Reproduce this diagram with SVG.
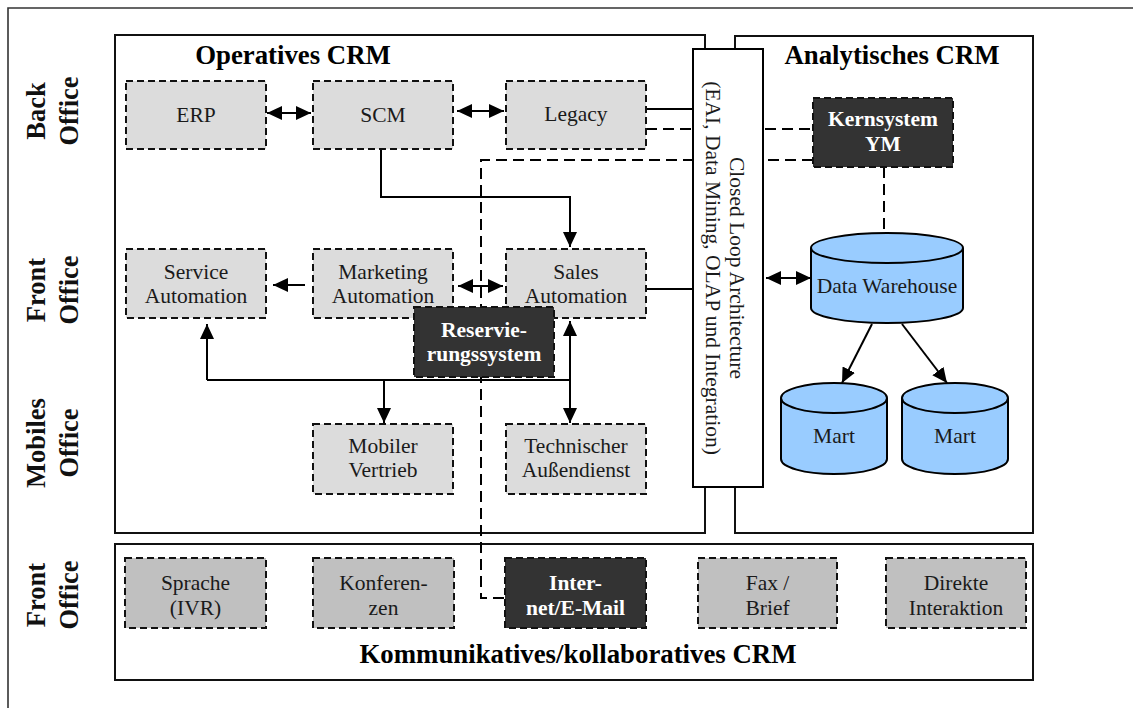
<svg xmlns="http://www.w3.org/2000/svg" width="1133" height="708" viewBox="0 0 1133 708">
<style>
  text { font-family: "Liberation Serif", "Times New Roman", serif; }
  .frame { fill: none; stroke: #333; stroke-width: 1.6; }
  .area { fill: #fff; stroke: #111; stroke-width: 2; }
  .node { fill: #dcdcdc; stroke: #111; stroke-width: 2; stroke-dasharray: 7 4; }
  .comm { fill: #c0c0c0; stroke: #111; stroke-width: 2; stroke-dasharray: 7 4; }
  .dark { fill: #333; stroke: #111; stroke-width: 2; stroke-dasharray: 7 4; }
  .db { fill: #99ccff; stroke: #000; stroke-width: 2; }
  .lbl { font-size: 21.5px; fill: #1a1a1a; text-anchor: middle; }
  .lblw { font-size: 21.5px; fill: #fff; font-weight: bold; text-anchor: middle; }
  .title { font-size: 26.8px; font-weight: bold; fill: #000; text-anchor: middle; }
  .side { font-size: 26.5px; font-weight: bold; fill: #111; text-anchor: middle; }
  .line { fill: none; stroke: #000; stroke-width: 2; }
  .dash { fill: none; stroke: #000; stroke-width: 2; stroke-dasharray: 11 6; }
  .arr { marker-end: url(#ah); }
  .arr2 { marker-start: url(#ah); marker-end: url(#ah); }
</style>
<defs>
  <marker id="ah" viewBox="0 0 15 14" refX="15" refY="7" markerWidth="15" markerHeight="14" markerUnits="userSpaceOnUse" orient="auto-start-reverse">
    <path d="M0,0 L15,7 L0,14 Z" fill="#000"/>
  </marker>
</defs>

<!-- outer frame (continues past the lower and right border) -->
<path class="frame" d="M8,720 V8 H1140"/>

<!-- side labels -->
<g id="labels-side">
  <text class="side" transform="translate(45,111) rotate(-90)">Back</text>
  <text class="side" transform="translate(78,111) rotate(-90)">Office</text>
  <text class="side" transform="translate(45,290) rotate(-90)">Front</text>
  <text class="side" transform="translate(78,290) rotate(-90)">Office</text>
  <text class="side" transform="translate(45,443) rotate(-90)">Mobiles</text>
  <text class="side" transform="translate(78,443) rotate(-90)">Office</text>
  <text class="side" transform="translate(45,595) rotate(-90)">Front</text>
  <text class="side" transform="translate(78,595) rotate(-90)">Office</text>
</g>

<!-- area boxes -->
<g id="area-operativ">
  <rect class="area" x="115" y="35" width="590" height="498"/>
  <text class="title" x="293" y="64">Operatives CRM</text>
</g>
<g id="area-analytisch">
  <rect class="area" x="735" y="36" width="298" height="497"/>
  <text class="title" x="892" y="64">Analytisches CRM</text>
</g>
<g id="area-kommunikativ">
  <rect class="area" x="115" y="544" width="918" height="136"/>
  <text class="title" x="578" y="663">Kommunikatives/kollaboratives CRM</text>
</g>

<!-- connectors -->
<g id="connectors">
  <line class="line arr2" x1="267" y1="113" x2="311" y2="113"/>
  <line class="line arr2" x1="457" y1="111" x2="504" y2="111"/>
  <line class="line" x1="646" y1="109" x2="693" y2="109"/>
  <line class="dash" x1="646" y1="129" x2="813" y2="129"/>
  <path class="dash" d="M813,160 H481 V598 H505"/>
  <path class="line arr" d="M381,149 V197 H570 V247"/>
  <line class="line arr" x1="305" y1="285" x2="273" y2="285"/>
  <line class="line arr2" x1="458" y1="286" x2="503" y2="286"/>
  <line class="line" x1="646" y1="289" x2="693" y2="289"/>
  <line class="line arr2" x1="766" y1="278" x2="811" y2="278"/>
  <line class="dash" x1="884" y1="167" x2="884" y2="233"/>
  <line class="line arr" x1="872" y1="324" x2="842" y2="383"/>
  <line class="line arr" x1="902" y1="324" x2="947" y2="383"/>
  <line class="line" x1="207" y1="380" x2="570" y2="380"/>
  <line class="line arr" x1="207" y1="380" x2="207" y2="324"/>
  <line class="line arr" x1="384" y1="380" x2="384" y2="423"/>
  <line class="line arr2" x1="570" y1="321" x2="570" y2="423"/>
</g>

<!-- integration bar -->
<g id="closed-loop">
  <rect x="693" y="49" width="70" height="438" fill="#fff" stroke="#000" stroke-width="2"/>
  <text class="lbl" transform="translate(730,268) rotate(90)">Closed Loop Architecture</text>
  <text class="lbl" transform="translate(706,268) rotate(90)">(EAI, Data Mining, OLAP und Integration)</text>
</g>

<!-- back office -->
<g id="erp">
  <rect class="node" x="126" y="81" width="140" height="68"/>
  <text class="lbl" x="196" y="122">ERP</text>
</g>
<g id="scm">
  <rect class="node" x="313" y="81" width="140" height="68"/>
  <text class="lbl" x="383" y="122">SCM</text>
</g>
<g id="legacy">
  <rect class="node" x="506" y="81" width="140" height="68"/>
  <text class="lbl" x="576" y="121">Legacy</text>
</g>

<!-- front office -->
<g id="service-automation">
  <rect class="node" x="126" y="249" width="140" height="69"/>
  <text class="lbl" x="196" y="279">Service</text>
  <text class="lbl" x="196" y="303">Automation</text>
</g>
<g id="marketing-automation">
  <rect class="node" x="313" y="249" width="140" height="69"/>
  <text class="lbl" x="383" y="279">Marketing</text>
  <text class="lbl" x="383" y="303">Automation</text>
</g>
<g id="sales-automation">
  <rect class="node" x="506" y="249" width="140" height="69"/>
  <text class="lbl" x="576" y="279">Sales</text>
  <text class="lbl" x="576" y="303">Automation</text>
</g>
<g id="reservierungssystem">
  <rect class="dark" x="414" y="307" width="140" height="70"/>
  <text class="lblw" x="484" y="337">Reservie-</text>
  <text class="lblw" x="484" y="361">rungssystem</text>
</g>

<!-- mobile office -->
<g id="mobiler-vertrieb">
  <rect class="node" x="313" y="424" width="140" height="70"/>
  <text class="lbl" x="383" y="453">Mobiler</text>
  <text class="lbl" x="383" y="477">Vertrieb</text>
</g>
<g id="technischer-aussendienst">
  <rect class="node" x="506" y="424" width="140" height="70"/>
  <text class="lbl" x="576" y="453">Technischer</text>
  <text class="lbl" x="576" y="477">Außendienst</text>
</g>

<!-- analytics -->
<g id="kernsystem-ym">
  <rect class="dark" x="813" y="98" width="140" height="69"/>
  <text class="lblw" x="883" y="126">Kernsystem</text>
  <text class="lblw" x="883" y="151">YM</text>
</g>
<g id="data-warehouse">
  <path class="db" d="M811,248 V308 A76,15 0 0 0 963,308 V248"/>
  <ellipse class="db" cx="887" cy="248" rx="76" ry="15"/>
  <text class="lbl" x="887" y="293">Data Warehouse</text>
</g>
<g id="mart-1">
  <path class="db" d="M781,398 V459 A53,15 0 0 0 887,459 V398"/>
  <ellipse class="db" cx="834" cy="398" rx="53" ry="15"/>
  <text class="lbl" x="834" y="443">Mart</text>
</g>
<g id="mart-2">
  <path class="db" d="M902,398 V459 A53,15 0 0 0 1008,459 V398"/>
  <ellipse class="db" cx="955" cy="398" rx="53" ry="15"/>
  <text class="lbl" x="955" y="443">Mart</text>
</g>

<!-- communication channels -->
<g id="sprache">
  <rect class="comm" x="125" y="558" width="141" height="70"/>
  <text class="lbl" x="195.5" y="590">Sprache</text>
  <text class="lbl" x="195.5" y="615">(IVR)</text>
</g>
<g id="konferenzen">
  <rect class="comm" x="313" y="558" width="141" height="70"/>
  <text class="lbl" x="383.5" y="590">Konferen-</text>
  <text class="lbl" x="383.5" y="615">zen</text>
</g>
<g id="internet-email">
  <rect class="dark" x="505" y="558" width="141" height="70"/>
  <text class="lblw" x="575.5" y="590">Inter-</text>
  <text class="lblw" x="575.5" y="615">net/E-Mail</text>
</g>
<g id="fax-brief">
  <rect class="comm" x="698" y="558" width="139" height="70"/>
  <text class="lbl" x="767.5" y="590">Fax /</text>
  <text class="lbl" x="767.5" y="615">Brief</text>
</g>
<g id="direkte-interaktion">
  <rect class="comm" x="886" y="558" width="140" height="70"/>
  <text class="lbl" x="956" y="590">Direkte</text>
  <text class="lbl" x="956" y="615">Interaktion</text>
</g>
</svg>
